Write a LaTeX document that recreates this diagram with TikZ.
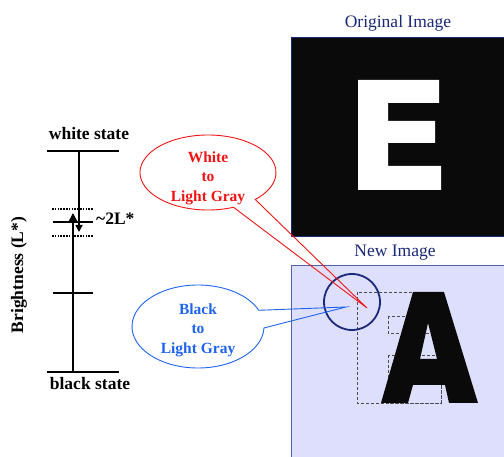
\documentclass[tikz,border=0pt]{standalone}
\usepackage{fontspec}
\setmainfont{Liberation Serif}
\usetikzlibrary{arrows.meta,shapes.geometric}
\definecolor{navy}{RGB}{26,40,120}
\definecolor{lav}{RGB}{222,222,253}
\definecolor{boxedge}{RGB}{80,96,170}
\definecolor{cred}{RGB}{240,20,20}
\definecolor{cblue}{RGB}{30,100,240}
\definecolor{ink}{RGB}{10,10,10}
\begin{document}
\begin{tikzpicture}[x=1pt,y=-1pt,
  lbl/.style={font=\fontsize{17.5}{20}\selectfont\bfseries, inner sep=0pt},
  title/.style={font=\fontsize{17.5}{20}\selectfont, text=navy, inner sep=0pt},
  call/.style={font=\fontsize{15.5}{19.5}\selectfont\bfseries, align=center, inner sep=0pt},
  scaleline/.style={line width=1.8pt},
  dots/.style={line width=1.6pt, dash pattern=on 1.6pt off 1.2pt},
  boxd/.style={draw=black!70, dash pattern=on 3pt off 2pt, line width=0.8pt},
  arr/.style={line width=1.5pt}]
\useasboundingbox (0,0) rectangle (504,457);

% ---- Original image
\fill[ink] (291,37) rectangle (506,236);
\draw[navy, line width=0.8pt] (506,37) -- (291,37) -- (291,236) -- (506,236);
\fill[white] (358,80) -- (439,80) -- (439,103) -- (388,103) -- (388,121) -- (435,121) -- (435,143) -- (388,143) -- (388,166) -- (441,166) -- (441,190) -- (358,190) -- cycle;
\node[title, anchor=base] (origT) at (398,27.5) {Original Image};

% ---- New image
\fill[lav] (291,266) rectangle (506,459);
\draw[boxedge, line width=1pt] (291,459) -- (291,266) -- (506,266);
\node[title, anchor=base] (newT) at (395,257) {New Image};

\draw[boxd] (357,292) rectangle (441,403);
\draw[boxd] (388,316) rectangle (432,333);
\draw[boxd] (388,355) rectangle (441,403);

\fill[ink, even odd rule] (381,403) -- (413,292) -- (444,292) -- (478,403) -- (449,403) -- (445,385) -- (413,385) -- (408,403) -- cycle
  (428,323) -- (437,359) -- (420,359) -- cycle;

\draw[navy, line width=1.8pt] (352,302) circle[radius=28];

% ---- callouts
\coordinate (rtip) at (367,308);
\coordinate (btip) at (346,307);
\coordinate (rc) at (208,172.5);
\coordinate (bc) at (198,326.5);
\draw[cred, line width=0.9pt] (rc) ++(68:68 and 37.5) arc[start angle=68, end angle=406, x radius=68, y radius=37.5] -- (rtip) -- cycle;
\node[call, text=cred] (rtext) at (208,178) {White\\to\\Light Gray};
\draw[cblue, line width=0.9pt] (bc) ++(2:66 and 41.5) arc[start angle=2, end angle=337, x radius=66, y radius=41.5] -- (btip) -- cycle;
\node[call, text=cblue] (btext) at (198,330) {Black\\to\\Light Gray};

% ---- brightness scale
\coordinate (t1) at (47,151);  \coordinate (t2) at (119,151);
\coordinate (b1) at (47,372);  \coordinate (b2) at (119,372);
\coordinate (m1) at (53,222);  \coordinate (m2) at (93,222);
\coordinate (l1) at (53,293);  \coordinate (l2) at (93,293);
\coordinate (d1) at (52,209);  \coordinate (d2) at (93,209);
\coordinate (e1) at (52,236);  \coordinate (e2) at (93,236);
\coordinate (dnA) at (79,151); \coordinate (dnB) at (79,232);
\coordinate (upA) at (73,372); \coordinate (upB) at (73,213);
\draw[scaleline] (t1) -- (t2);
\draw[scaleline] (b1) -- (b2);
\draw[scaleline] (m1) -- (m2);
\draw[scaleline] (l1) -- (l2);
\draw[dots] (d1) -- (d2);
\draw[dots] (e1) -- (e2);
\draw[arr, -{Triangle[width=7pt,length=7pt]}] (dnA) -- (dnB);
\draw[arr, -{Triangle[width=9pt,length=9pt]}] (upA) -- (upB);

\node[lbl, anchor=base] (white) at (89,139.5) {white state};
\node[lbl, anchor=base] (black) at (90,389.5) {black state};
\node[lbl, anchor=base west] (dl) at (96,225) {\textasciitilde 2L*};
\node[lbl, rotate=90] (bright) at (19,275) {Brightness (L*)};
\end{tikzpicture}
\end{document}
